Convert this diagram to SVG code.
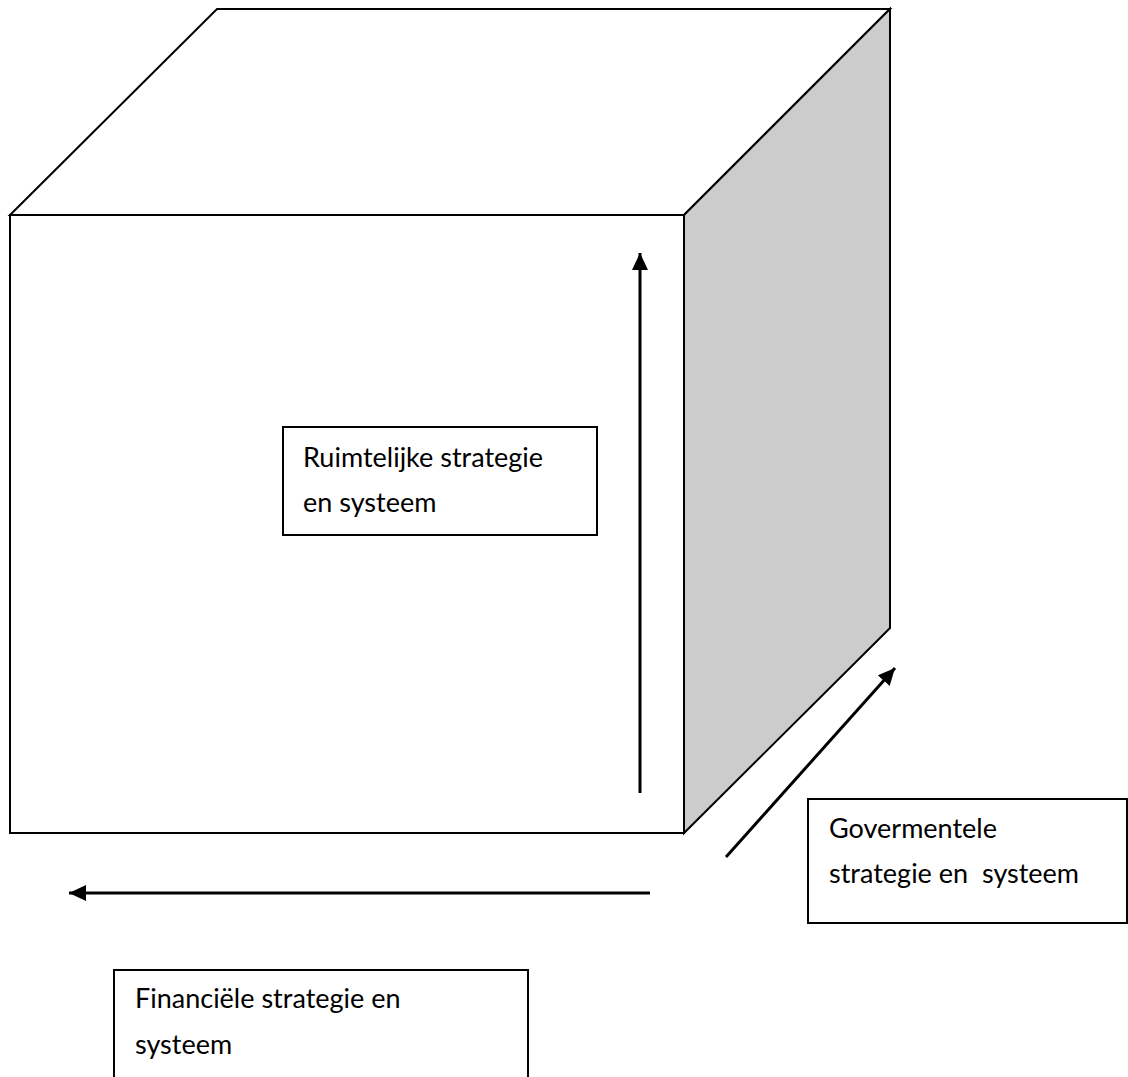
<svg xmlns="http://www.w3.org/2000/svg" width="1128" height="1077" viewBox="0 0 1128 1077">
  <style>
    .edge { fill: none; stroke: #000; stroke-width: 2; stroke-linejoin: miter; }
    .box { fill: #fff; stroke: #000; stroke-width: 2; }
    .lbl { font-family: Lato, "Open Sans", "Liberation Sans", sans-serif; font-size: 27px; fill: #000; }
    .arrow { fill: none; stroke: #000; stroke-width: 3; marker-end: url(#head); }
  </style>
  <defs>
    <marker id="head" markerUnits="userSpaceOnUse" markerWidth="20" markerHeight="18" refX="17" refY="8" orient="auto">
      <path d="M0,0 L17,8 L0,16 Z" fill="#000"/>
    </marker>
  </defs>
  <rect width="1128" height="1077" fill="#fff"/>

  <!-- cube -->
  <g id="cube">
    <polygon class="edge" points="10,215 217,9 890,9 684,215"/>
    <polygon class="edge" points="684,215 890,9 890,628 684,833" fill="#cccccc" style="fill:#cccccc"/>
    <rect class="edge" x="10" y="215" width="674" height="618"/>
  </g>

  <!-- axis arrows -->
  <g id="connectors">
    <line class="arrow" x1="640" y1="793" x2="640" y2="253"/>
    <line class="arrow" x1="650" y1="893" x2="69" y2="893"/>
    <line class="arrow" x1="726" y1="857" x2="895" y2="668"/>
  </g>

  <g id="ruimtelijk">
    <rect class="box" x="283" y="427" width="314" height="108"/>
    <text class="lbl" x="303" y="467">Ruimtelijke strategie</text>
    <text class="lbl" x="303" y="512">en systeem</text>
  </g>

  <g id="govermentele">
    <rect class="box" x="808" y="799" width="319" height="124"/>
    <text class="lbl" x="829" y="838">Govermentele</text>
    <text class="lbl" x="829" y="883" xml:space="preserve">strategie en  systeem</text>
  </g>

  <g id="financieel">
    <rect class="box" x="114" y="970" width="414" height="130"/>
    <text class="lbl" x="135" y="1008">Financiële strategie en</text>
    <text class="lbl" x="135" y="1054">systeem</text>
  </g>
</svg>
